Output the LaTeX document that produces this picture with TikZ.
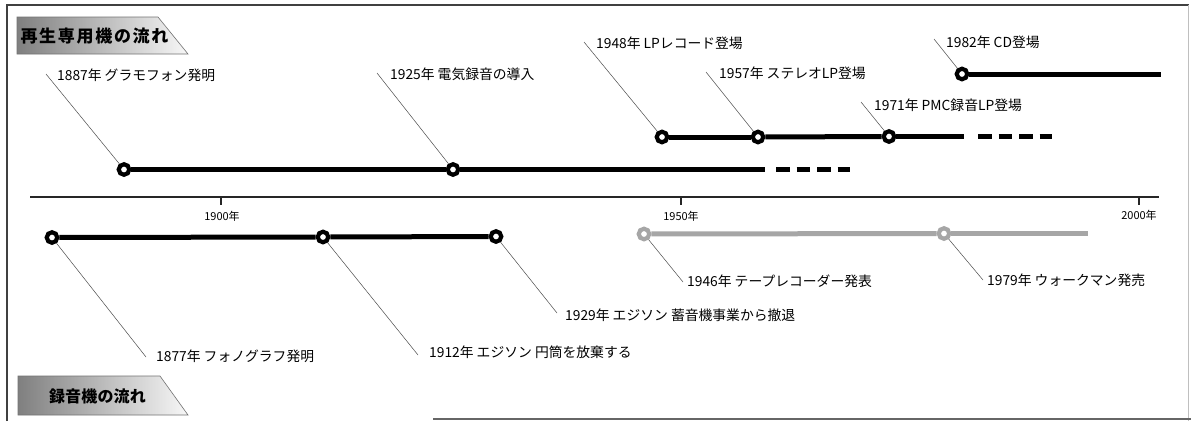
\documentclass[tikz,border=0pt]{standalone}
\usepackage{fontspec}
\setmainfont{Noto Sans CJK JP}
\newfontfamily\titleA[LetterSpace=10]{Noto Sans CJK JP}
\newfontfamily\titleB[LetterSpace=1]{Noto Sans CJK JP}
\definecolor{tlgray}{HTML}{A6A6A6}
\begin{document}
\begin{tikzpicture}[x=1pt,y=-1pt,
  ev/.style={circle, draw=black, fill=white, line width=4.2pt, minimum size=10.5pt, inner sep=0pt},
  evg/.style={ev, draw=tlgray},
  tl/.style={line width=5pt, draw=black},
  tlg/.style={line width=5pt, draw=tlgray},
  tld/.style={line width=5pt, draw=black, dash pattern=on 13.5pt off 7pt},
  lead/.style={line width=0.5pt, draw=black!70},
  lab/.style={font=\fontsize{13.8}{15}\selectfont, anchor=west, inner sep=0pt},
  yr/.style={font=\fontsize{11}{12}\selectfont, inner sep=0pt},
  tbox/.style={left color=black!50, right color=black!3, draw=black!55, line width=0.6pt},
  frame/.style={line width=1.2pt, draw=black!75}
]
\useasboundingbox (0,0) rectangle (1191,421);
\fill[white] (0,0) rectangle (1191,421);
% frame
\draw[frame] (7,421) -- (7,5) -- (1189,5);
\draw[line width=0.8pt, draw=black!25] (1188,5) -- (1188,421);
\draw[line width=1.6pt, draw=black!60] (433,419) -- (1191,419);
% title boxes
\shade[tbox] (17,17) -- (158,17) -- (188,54) -- (17,54) -- cycle;
\node[inner sep=0pt, font=\titleA\bfseries\fontsize{17}{18}\selectfont] (t1) at (94.5,36) {再生専用機の流れ};
\shade[tbox] (18,376) -- (160,376) -- (188,415) -- (18,415) -- cycle;
\node[inner sep=0pt, font=\titleB\bfseries\fontsize{16}{17}\selectfont] (t2) at (97.5,396) {録音機の流れ};
% axis
\coordinate (ax0) at (30,197);
\coordinate (ax1) at (1159,197);
\draw[line width=1.3pt, draw=black!85] (ax0) -- (ax1);
\coordinate (k1900) at (221,197);
\coordinate (k1950) at (681,197);
\coordinate (k2000) at (1139,197);
\coordinate (m1900) at (221,205);
\coordinate (m1950) at (681,205);
\coordinate (m2000) at (1139,205);
\draw[line width=1.5pt, draw=black!85] (k1900) -- (m1900) (k1950) -- (m1950) (k2000) -- (m2000);
\node[yr] (y1900) at (222,216) {1900年};
\node[yr] (y1950) at (681,216) {1950年};
\node[yr] (y2000) at (1139,215) {2000年};
% upper events: circles
\node[ev] (c1887) at (124,169.5) {};
\node[ev] (c1925) at (453,169.5) {};
\node[ev] (c1948) at (662,137) {};
\node[ev] (c1957) at (758,137) {};
\node[ev] (c1971) at (889,136.5) {};
\node[ev] (c1982) at (962,74) {};
\coordinate (e1) at (765,169.5);
\coordinate (d1s) at (776,169.5);
\coordinate (d1e) at (850,169.5);
\coordinate (e2) at (964,136.5);
\coordinate (d2s) at (978,136.5);
\coordinate (d2e) at (1052,136.5);
\coordinate (e3) at (1161,74);
% upper labels
\node[lab] (l1887) at (57,75) {1887年 グラモフォン発明};
\node[lab] (l1925) at (390,74) {1925年 電気録音の導入};
\node[lab] (l1948) at (596,43) {1948年 LPレコード登場};
\node[lab] (l1957) at (719,73) {1957年 ステレオLP登場};
\node[lab] (l1971) at (874,105) {1971年 PMC録音LP登場};
\node[lab] (l1982) at (946,42) {1982年 CD登場};
\coordinate (q1887) at (46,74);
\coordinate (q1925) at (377,73);
\coordinate (q1948) at (584,42);
\coordinate (q1957) at (706,72);
\coordinate (q1971) at (861,102);
\coordinate (q1982) at (934,39);
\draw[lead] (c1887) -- (q1887);
\draw[lead] (c1925) -- (q1925);
\draw[lead] (c1948) -- (q1948);
\draw[lead] (c1957) -- (q1957);
\draw[lead] (c1971) -- (q1971);
\draw[lead] (c1982) -- (q1982);
% upper lines
\draw[tl] (c1887) -- (c1925);
\draw[tl] (c1925) -- (e1);
\draw[tld] (d1s) -- (d1e);
\draw[tl] (c1948) -- (c1957);
\draw[tl] (c1957) -- (c1971);
\draw[tl] (c1971) -- (e2);
\draw[tld] (d2s) -- (d2e);
\draw[tl] (c1982) -- (e3);
% lower events
\node[ev] (c1877) at (52,237.5) {};
\node[ev] (c1912) at (323,237) {};
\node[ev] (c1929) at (496,236.5) {};
\node[evg] (c1946) at (644,234) {};
\node[evg] (c1979) at (944,233.5) {};
\coordinate (e4) at (1088,233.5);
\node[lab] (l1877) at (156,356) {1877年 フォノグラフ発明};
\node[lab] (l1912) at (429,352) {1912年 エジソン 円筒を放棄する};
\node[lab] (l1929) at (565,315) {1929年 エジソン 蓄音機事業から撤退};
\node[lab] (l1946) at (687,281) {1946年 テープレコーダー発表};
\node[lab] (l1979) at (987,280) {1979年 ウォークマン発売};
\coordinate (q1877) at (146,357);
\coordinate (q1912) at (418,355);
\coordinate (q1929) at (557,313);
\coordinate (q1946) at (683,282);
\coordinate (q1979) at (983,280);
\draw[lead] (c1877) -- (q1877);
\draw[lead] (c1912) -- (q1912);
\draw[lead] (c1929) -- (q1929);
\draw[lead] (c1946) -- (q1946);
\draw[lead] (c1979) -- (q1979);
\draw[tl] (c1877) -- (c1912);
\draw[tl] (c1912) -- (c1929);
\draw[tlg] (c1946) -- (c1979);
\draw[tlg] (c1979) -- (e4);
\end{tikzpicture}
\end{document}
